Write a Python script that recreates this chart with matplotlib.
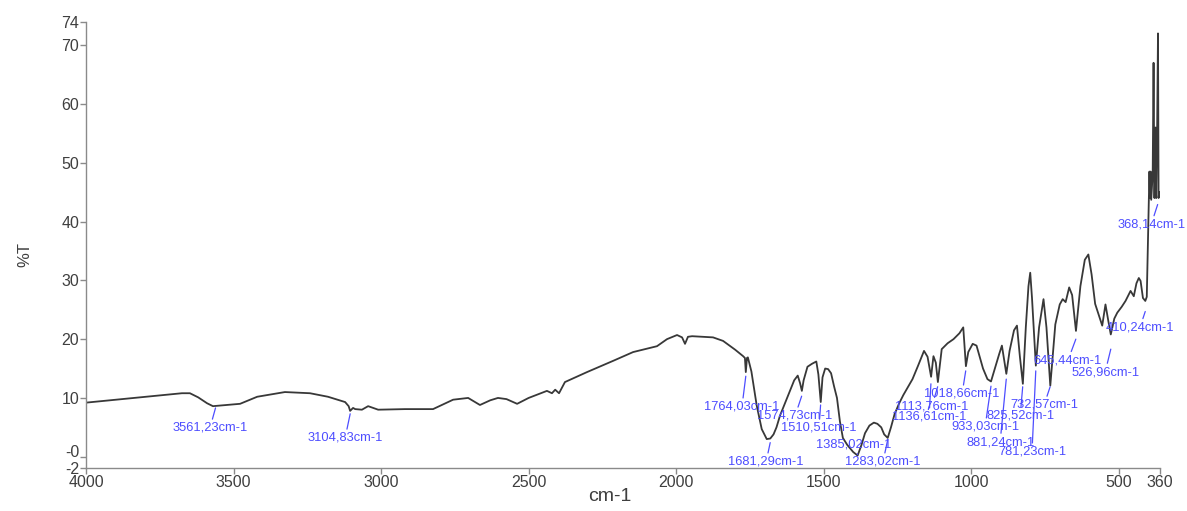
import matplotlib
matplotlib.use("Agg")
import matplotlib.pyplot as plt
import matplotlib.transforms as mtransforms

plt.rcParams["font.family"] = ["Liberation Sans", "DejaVu Sans"]

# spectrum (cm-1, %T)
wavenumber = [
    4000, 3675, 3648, 3620, 3590, 3570, 3478, 3420, 3326, 3241, 3180, 3122,
    3110, 3105, 3095, 3088, 3065, 3044, 3010, 2919, 2824, 2756, 2705, 2665,
    2630, 2604, 2575, 2539, 2500, 2438, 2421, 2410, 2397, 2377, 2302, 2214,
    2146, 2065, 2031, 1997, 1980, 1970, 1960, 1946, 1875, 1841, 1800, 1773,
    1767, 1764, 1760, 1757, 1745, 1727, 1710, 1693, 1681, 1670, 1660, 1648,
    1620, 1600, 1588, 1580, 1574, 1568, 1555, 1540, 1525, 1518, 1510, 1504,
    1495, 1485, 1475, 1465, 1455, 1445, 1435, 1420, 1400, 1385, 1372, 1360,
    1345, 1330, 1318, 1305, 1295, 1283, 1272, 1260, 1245, 1230, 1213, 1199,
    1180, 1160, 1148, 1136, 1128, 1120, 1113, 1100, 1080, 1060, 1040, 1027,
    1018, 1010, 995, 982, 960, 945, 933, 920, 905, 896, 881, 870, 855, 845,
    835, 825, 815, 806, 800, 794, 781, 770, 755, 745, 732, 715, 700, 690,
    680, 668, 658, 645, 630, 615, 603, 592, 580, 567, 556, 545, 535, 527,
    515, 505, 490, 477, 467, 460, 449, 440, 432, 426, 418, 410, 405, 401,
    396, 394, 392, 390, 385, 382, 379, 377, 375, 373, 370, 367, 365, 363,
]
transmittance = [
    9.2, 10.8, 10.8, 10.1, 9.1, 8.6, 9.0, 10.2, 11.0, 10.8, 10.2, 9.3,
    8.6, 7.8, 8.3, 8.1, 8.0, 8.6, 8.0, 8.1, 8.1, 9.7, 10.0, 8.8,
    9.6, 10.0, 9.8, 9.0, 10.0, 11.2, 10.8, 11.4, 10.8, 12.7, 14.4, 16.3,
    17.8, 18.8, 20.0, 20.7, 20.3, 19.2, 20.4, 20.5, 20.3, 19.7, 18.2, 17.1,
    16.8, 14.4, 16.8, 16.9, 14.5, 8.7, 4.7, 3.0, 3.1, 3.8, 5.0, 7.0,
    10.5, 13.0, 13.8, 12.5, 11.2, 13.0, 15.3, 15.8, 16.2, 14.0, 9.3, 13.5,
    15.0, 14.9, 14.2, 12.0, 10.0, 6.0, 3.2, 2.0, 0.8, 0.2, 2.0, 4.0,
    5.3, 5.8, 5.6, 5.0, 3.8, 3.2, 5.0, 7.2, 9.0, 10.5, 12.0, 13.2,
    15.5, 18.0, 17.0, 13.6, 17.1, 16.0, 12.7, 18.3, 19.3, 20.0, 21.0, 22.0,
    15.4, 17.8, 19.2, 18.9, 15.0, 13.2, 12.8, 15.0, 17.5, 18.9, 14.1, 18.0, 21.5, 22.3,
    17.0, 12.4, 22.0, 29.0, 31.3, 27.0, 15.5, 22.0, 26.8, 22.0, 12.1, 22.5, 25.9, 26.8,
    26.3, 28.8, 27.5, 21.4, 29.0, 33.5, 34.4, 31.0, 26.0, 24.0, 22.3, 25.9, 23.0, 20.8,
    23.5, 24.5, 25.5, 26.5, 27.5, 28.2, 27.3, 29.5, 30.4, 29.9, 27.0, 26.5, 27.2, 37.0,
    48.5, 44.0, 48.5, 43.7, 48.0, 67.0, 44.0, 52.0, 56.0, 44.0, 55.0, 72.0, 44.0, 45.0,
]

peak_wn = [3561.23, 3104.83, 1764.03, 1681.29, 1574.73, 1510.51, 1385.02,
           1283.02, 1136.61, 1113.76, 1018.66, 933.03, 881.24, 825.52,
           781.23, 732.57, 645.44, 526.96, 410.24, 368.14]
peak_labels = [f"{w:.2f}".replace(".", ",") + "cm-1" for w in peak_wn]

# layout: end of each leader near the curve and centre of its label (data units)
leader_tip = [8.3, 7.3, 13.7, 2.4, 10.3, 8.8, 0.4, 2.9, 12.4, 11.9, 14.6,
              12.0, 13.2, 11.9, 14.6, 11.9, 20.0, 18.3, 24.7, 42.9]
label_xy = [(3580, 4.9), (3122, 3.2), (1777, 8.5), (1695, -0.85),
            (1597, 6.95), (1516, 4.9), (1400, 2.0), (1299, -0.85),
            (1143, 6.8), (1133, 8.6), (1031, 10.7), (953, 5.1), (902, 2.5),
            (834, 7.0), (794, 0.85), (753, 8.8), (672, 16.4), (546, 14.4),
            (428, 22.0), (390, 39.5)]

x_ticks = [4000, 3500, 3000, 2500, 2000, 1500, 1000, 500, 360]
y_ticks = [-2, 0, 10, 20, 30, 40, 50, 60, 70, 74]
y_tick_labels = ["-2", "-0", "10", "20", "30", "40", "50", "60", "70", "74"]

blue = "#4d4dff"
grey = "#8a8a8a"
text_col = "#3f3f3f"

fig = plt.figure(figsize=(11.87, 5.11), dpi=100)
ax = fig.add_axes([0.0725, 0.0832, 0.9048, 0.8744])

ax.plot(wavenumber, transmittance, color="#383838", lw=1.3)

for wn, lab, tip, (tx, ty) in zip(peak_wn, peak_labels, leader_tip, label_xy):
    ax.annotate(
        lab,
        xy=(wn, tip),
        xytext=(tx, ty),
        textcoords="data",
        ha="center",
        va="center",
        fontsize=9.3,
        color=blue,
        arrowprops=dict(arrowstyle="-", color=blue, lw=0.9, shrinkA=0, shrinkB=0),
    )

ax.set_xlim(4000, 360)
ax.set_ylim(-2, 74)
ax.set_xticks(x_ticks)
ax.set_xticklabels([str(t) for t in x_ticks])
ax.set_yticks(y_ticks)
ax.set_yticklabels(y_tick_labels)

for side in ["top", "right"]:
    ax.spines[side].set_visible(False)
for side in ["left", "bottom"]:
    ax.spines[side].set_color(grey)
    ax.spines[side].set_linewidth(1.0)

ax.tick_params(axis="both", colors=grey, labelcolor=text_col, labelsize=11.5,
               length=4, width=1, pad=1)

# the "-0" label sits a little higher in the original, clear of "-2"
zero_lab = ax.get_yticklabels()[1]
zero_lab.set_transform(zero_lab.get_transform() +
                       mtransforms.ScaledTranslation(0, 4 / 72, fig.dpi_scale_trans))

ax.set_xlabel("cm-1", fontsize=14, color=text_col)
ax.xaxis.set_label_coords(0.488, -0.044)
ax.set_ylabel("%T", fontsize=12, color=text_col)
ax.yaxis.set_label_coords(-0.050, 0.478)

fig.savefig("out.png", dpi=100)
